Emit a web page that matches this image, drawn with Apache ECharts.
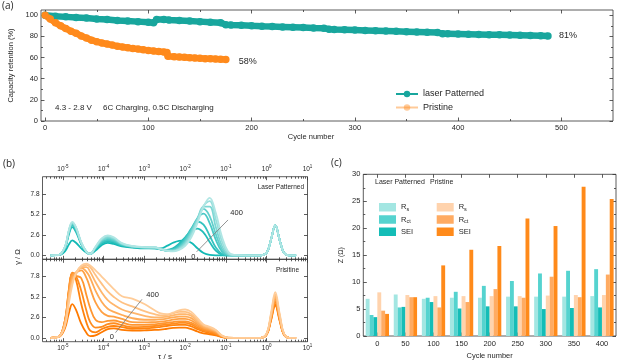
<!DOCTYPE html>
<html>
<head>
<meta charset="utf-8">
<script src="https://cdn.jsdelivr.net/npm/echarts@6/dist/echarts.min.js"></script>
<style>
  html, body { margin: 0; padding: 0; background: #fff; }
  #chart { width: 620px; height: 362px; }
</style>
</head>
<body>
<div id="chart"></div>
<script>
// (a) capacity retention
const cycleLaser = [0,10,20,30,40,50,60,70,80,90,100,105,108,115,120,130,140,150,160,170,175,180,190,200,210,220,230,240,250,260,270,275,280,290,300,310,320,330,340,350,360,370,380,385,390,400,410,420,430,440,450,460,470,480,487];
const capLaser = [100,99,98.5,98,97.5,96.5,96,95,94.5,94,93.5,93,96,96,95.5,95,94.5,94,93.5,93,91,90.8,90.5,90,89.6,89.3,89,88.7,88.4,88,87.8,86.8,86.6,86.3,86,85.7,85.4,85.1,84.8,84.5,84.2,83.9,83.6,82.6,82.5,82.3,82.1,81.9,81.7,81.5,81.3,81.1,80.9,80.7,80.5];
const cyclePristine = [0,5,10,15,20,25,30,35,40,45,50,55,60,65,70,75,80,85,90,95,100,105,110,115,118,119,125,130,135,140,145,150,155,160,165,170,175];
const capPristine = [100,96.5,93,90,87.5,85,83,80.5,78.5,76.5,75,73.8,72.8,71.8,70.8,70,69.3,68.6,68,67.4,66.8,66.3,65.8,65.3,64.8,61.2,60.8,60.5,60.2,59.9,59.6,59.3,59.0,58.8,58.6,58.4,58.2];

// (b) DRT, x = log10(tau / s)
const logTau = [-5.3,-5.1,-4.95,-4.85,-4.77,-4.68,-4.55,-4.42,-4.33,-4.2,-4.05,-3.9,-3.75,-3.55,-3.3,-3.0,-2.75,-2.6,-2.45,-2.3,-2.15,-2.0,-1.85,-1.7,-1.55,-1.4,-1.25,-1.1,-0.95,-0.8,-0.5,-0.15,0.0,0.1,0.21,0.32,0.42,0.55,0.72];
const gammaLaser = [
  [0,0.02,0.5,1.4,1.9,1.6,0.9,0.35,0.2,0.6,1.3,1.6,1.45,1.15,1.0,0.9,0.9,0.9,1.2,1.6,1.85,1.9,1.6,0.9,0.3,0.05,0,0,0,0,0,0,0.35,1.9,3.8,1.9,0.35,0,0],
  [0,0.05,0.9,2.7,3.6,3.0,1.4,0.4,0.2,0.8,1.5,1.75,1.6,1.25,1.05,0.95,0.9,0.75,0.7,0.9,1.5,2.3,3.1,3.4,2.9,1.7,0.6,0.1,0,0,0,0,0.35,1.9,3.8,1.9,0.35,0,0],
  [0,0.05,1.0,2.9,3.8,3.2,1.5,0.4,0.2,0.85,1.6,1.9,1.75,1.3,1.05,0.95,0.95,0.75,0.65,0.8,1.3,2.2,3.4,4.3,3.9,2.5,1.0,0.2,0,0,0,0,0.35,1.9,3.8,1.9,0.35,0,0],
  [0,0.05,1.0,3.0,3.9,3.3,1.5,0.4,0.2,0.9,1.7,2.0,1.85,1.35,1.1,1.0,0.95,0.75,0.6,0.7,1.1,2.0,3.3,4.7,5.3,4.1,2.0,0.5,0.05,0,0,0,0.35,1.9,3.8,1.9,0.35,0,0],
  [0,0.05,1.0,3.1,4.0,3.4,1.6,0.4,0.2,0.95,1.85,2.15,1.95,1.4,1.1,1.0,1.0,0.75,0.6,0.65,1.0,1.8,3.1,4.7,5.9,5.0,2.7,0.8,0.1,0,0,0,0.35,1.9,3.8,1.9,0.35,0,0],
  [0,0.05,1.05,3.2,4.1,3.5,1.6,0.45,0.2,1.0,1.95,2.3,2.1,1.45,1.15,1.0,1.0,0.8,0.6,0.6,0.9,1.6,2.9,4.6,6.2,6.2,3.6,1.2,0.15,0,0,0,0.35,1.9,3.8,1.9,0.35,0,0],
  [0,0.05,1.05,3.2,4.15,3.55,1.65,0.45,0.2,1.05,2.05,2.45,2.2,1.5,1.15,1.05,1.0,0.8,0.6,0.55,0.8,1.4,2.6,4.4,6.3,6.9,4.6,1.8,0.3,0,0,0,0.35,1.9,3.8,1.9,0.35,0,0],
  [0,0.05,1.1,3.3,4.25,3.6,1.65,0.45,0.2,1.1,2.15,2.55,2.3,1.55,1.2,1.05,1.05,0.8,0.6,0.5,0.7,1.2,2.3,4.1,6.2,7.3,5.4,2.4,0.5,0.05,0,0,0.35,1.9,3.8,1.9,0.35,0,0]
];
const gammaPristine = [
  [0,0.1,1.2,3.2,4.3,3.6,1.8,0.6,0.2,0.3,0.7,1.1,1.2,1.0,0.9,0.95,1.0,1.05,1.15,1.25,1.3,1.3,1.1,0.8,0.55,0.45,0.3,0.08,0,0,0,0,0.4,2.1,4.1,2.1,0.4,0,0],
  [0,0.15,2.2,6.2,8.2,7.4,4.3,1.9,0.9,0.7,1.1,1.4,1.5,1.35,1.15,1.2,1.3,1.4,1.5,1.6,1.65,1.65,1.45,1.1,0.8,0.6,0.4,0.12,0,0,0,0,0.42,2.2,4.3,2.2,0.42,0,0],
  [0,0.15,2.2,6.3,8.3,7.9,6.0,3.4,2.0,1.3,1.4,1.75,1.85,1.6,1.35,1.4,1.5,1.6,1.7,1.8,1.9,1.9,1.7,1.3,0.95,0.75,0.5,0.15,0,0,0,0,0.44,2.3,4.5,2.3,0.44,0,0],
  [0,0.15,2.1,6.0,8.2,7.9,7.6,5.4,3.8,2.3,2.0,2.15,2.2,1.95,1.65,1.65,1.7,1.8,1.9,2.0,2.1,2.1,1.9,1.5,1.1,0.9,0.6,0.18,0,0,0,0,0.46,2.4,4.7,2.4,0.46,0,0],
  [0,0.15,2.0,5.8,7.9,8.3,8.6,7.6,6.3,4.5,3.3,2.8,2.7,2.4,2.0,1.95,2.0,2.05,2.15,2.3,2.4,2.4,2.2,1.7,1.25,1.0,0.7,0.2,0,0,0,0,0.48,2.5,4.9,2.5,0.48,0,0],
  [0,0.15,1.9,5.6,7.6,8.3,8.9,8.4,7.6,6.0,4.6,3.7,3.3,2.9,2.5,2.3,2.3,2.35,2.45,2.6,2.7,2.7,2.5,1.9,1.35,1.1,0.8,0.22,0,0,0,0,0.5,2.6,5.1,2.6,0.5,0,0],
  [0,0.15,1.8,5.3,7.3,8.2,9.0,9.0,8.4,7.1,5.8,4.8,4.2,3.6,3.2,2.8,2.6,2.6,2.7,2.85,3.0,3.0,2.8,2.1,1.5,1.2,0.85,0.25,0.02,0,0,0,0.52,2.7,5.3,2.7,0.52,0,0],
  [0,0.15,1.7,5.0,7.0,8.1,9.0,9.3,9.0,8.0,6.9,5.9,5.2,4.5,4.0,3.4,3.0,2.85,2.9,3.1,3.3,3.3,3.0,2.3,1.6,1.3,0.95,0.28,0.02,0,0,0,0.55,2.8,5.5,2.8,0.55,0,0],
  [0,0.15,1.5,4.5,6.7,8.2,9.2,9.45,9.2,8.6,7.8,7.0,6.2,5.3,5.0,4.3,3.5,3.1,3.0,3.2,3.5,3.6,3.3,2.5,1.7,1.4,1.0,0.3,0.02,0,0,0,0.58,3.0,5.8,3.0,0.58,0,0]
];
const gammaTicks = [0, 2.6, 5.2, 7.8];

// (c) fitted resistances
const cycleLabels = ['0','50','100','150','200','250','300','350','400'];
const laserRs  = [6.9,7.7,6.9,7.1,7.1,7.3,7.3,7.3,7.4];
const laserRct = [3.9,5.3,7.1,8.2,9.3,10.2,11.6,12.1,12.4];
const laserSEI = [3.5,5.4,6.3,5.1,5.5,5.5,5.0,5.2,5.3];
const pristRs  = [8.1,7.6,7.4,7.4,7.4,7.4,7.5,7.6,7.6];
const pristRct = [4.7,7.2,5.3,6.3,8.7,7.1,11.0,7.2,11.4];
const pristSEI = [4.1,7.2,13.1,16.0,16.7,21.8,20.4,27.7,25.4];

const FONT = 'Liberation Sans';
const INK = '#262626';
const TEAL = '#18a69d';
const ORANGE = '#ff8a1c';
const tealShades = ['#12b9b5','#22bdb9','#34c3bf','#4ac9c6','#62cfcc','#7cd7d4','#97dedc','#b0e6e4'];
const orangeShades = ['#ff7a00','#ff830e','#ff8c1e','#ff9630','#ffa043','#ffab57','#ffb66c','#ffc182','#ffcc98'];

const logMajor = [-5,-4,-3,-2,-1,0,1];
const logMinor = [];
for (let n = -6; n <= 0; n++) {
  for (let k = 2; k <= 9; k++) {
    const v = n + Math.log10(k);
    if (v > -5.5 && v < 1) logMinor.push(v);
  }
}

function ticks(vals, len) {
  return { show: true, inside: true, length: len, customValues: vals, lineStyle: { color: '#333', width: 0.8 } };
}
function axis(grid, pos, min, max, extra) {
  return Object.assign({
    type: 'value', gridIndex: grid, position: pos, min: min, max: max,
    axisLine: { show: false, onZero: false },
    splitLine: { show: false },
    axisLabel: { show: false },
    axisTick: { show: false }
  }, extra);
}
function label(vals, size, extra) {
  return Object.assign({ show: true, customValues: vals, fontSize: size, color: INK, fontFamily: FONT }, extra);
}

const xAxes = [];
const yAxes = [];

// grid 0 : (a)
const aMajX = [0,100,200,300,400,500], aMinX = [50,150,250,350,450];
const aMajY = [0,20,40,60,80,100], aMinY = [10,30,50,70,90];
xAxes.push(axis(0, 'bottom', -4, 550, {
  axisTick: ticks(aMajX, 3.5), axisLabel: label(aMajX, 7.5, { margin: 3 }),
  name: 'Cycle number', nameLocation: 'middle', nameGap: 11,
  nameTextStyle: { fontSize: 7.5, color: INK, fontFamily: FONT, padding: [0, 32, 0, 0] }
}));
const ax0 = 0;
xAxes.push(axis(0, 'bottom', -4, 550, { axisTick: ticks(aMinX, 2) }));
xAxes.push(axis(0, 'top', -4, 550, { axisTick: ticks(aMajX, 3.5) }));
xAxes.push(axis(0, 'top', -4, 550, { axisTick: ticks(aMinX, 2) }));
yAxes.push(axis(0, 'left', 0, 105, {
  axisTick: ticks(aMajY, 3.5), axisLabel: label(aMajY, 7.5, { margin: 3 }),
  name: 'Capacity retention (%)', nameLocation: 'middle', nameGap: 26,
  nameTextStyle: { fontSize: 7.5, color: INK, fontFamily: FONT }
}));
const ay0 = 0;
yAxes.push(axis(0, 'left', 0, 105, { axisTick: ticks(aMinY, 2) }));
yAxes.push(axis(0, 'right', 0, 105, { axisTick: ticks(aMajY, 3.5) }));
yAxes.push(axis(0, 'right', 0, 105, { axisTick: ticks(aMinY, 2) }));

// log labels with superscript
const powLabel = {
  formatter: v => '{b|10}{e|' + Math.round(v) + '}',
  rich: {
    b: { fontSize: 6.5, color: INK, fontFamily: FONT },
    e: { fontSize: 4.5, color: INK, fontFamily: FONT, padding: [0, 0, 5, 0] }
  }
};

// grid 1 : (b) top
const bx1 = xAxes.length;
xAxes.push(axis(1, 'top', -5.5, 1, { axisTick: ticks(logMajor, 3.5), axisLabel: label(logMajor, 6.5, Object.assign({ margin: 2 }, powLabel)) }));
xAxes.push(axis(1, 'top', -5.5, 1, { axisTick: ticks(logMinor, 2) }));
xAxes.push(axis(1, 'bottom', -5.5, 1, { axisTick: ticks(logMajor, 3.5) }));
xAxes.push(axis(1, 'bottom', -5.5, 1, { axisTick: ticks(logMinor, 2) }));
const by1 = yAxes.length;
yAxes.push(axis(1, 'left', -0.5, 10, {
  axisTick: ticks(gammaTicks, 3.5),
  axisLabel: label(gammaTicks, 6.5, { margin: 3, formatter: v => v.toFixed(1) })
}));
yAxes.push(axis(1, 'right', -0.5, 10, { axisTick: ticks(gammaTicks, 3.5) }));

// grid 2 : (b) bottom
const bx2 = xAxes.length;
xAxes.push(axis(2, 'bottom', -5.5, 1, {
  axisTick: ticks(logMajor, 3.5), axisLabel: label(logMajor, 6.5, Object.assign({ margin: 2 }, powLabel)),
  name: 'τ / s', nameLocation: 'middle', nameGap: 11,
  nameTextStyle: { fontSize: 8, color: INK, fontFamily: FONT, padding: [0, 20, 0, 0] }
}));
xAxes.push(axis(2, 'bottom', -5.5, 1, { axisTick: ticks(logMinor, 2) }));
xAxes.push(axis(2, 'top', -5.5, 1, { axisTick: ticks(logMajor, 3.5) }));
xAxes.push(axis(2, 'top', -5.5, 1, { axisTick: ticks(logMinor, 2) }));
const by2 = yAxes.length;
yAxes.push(axis(2, 'left', -0.5, 10, {
  axisTick: ticks(gammaTicks, 3.5),
  axisLabel: label(gammaTicks, 6.5, { margin: 3, formatter: v => v.toFixed(1) })
}));
yAxes.push(axis(2, 'right', -0.5, 10, { axisTick: ticks(gammaTicks, 3.5) }));

// grid 3 : (c)
const cx = xAxes.length;
xAxes.push({
  type: 'category', gridIndex: 3, position: 'bottom', data: cycleLabels,
  axisLine: { show: false, onZero: false },
  axisTick: { show: true, inside: true, alignWithLabel: true, length: 3.5, lineStyle: { color: '#333', width: 0.8 } },
  axisLabel: { fontSize: 7.5, color: INK, fontFamily: FONT, margin: 4 },
  name: 'Cycle number', nameLocation: 'middle', nameGap: 16,
  nameTextStyle: { fontSize: 7.5, color: INK, fontFamily: FONT }
});
xAxes.push({
  type: 'category', gridIndex: 3, position: 'top', data: cycleLabels,
  axisLine: { show: false, onZero: false }, axisLabel: { show: false },
  axisTick: { show: true, inside: true, alignWithLabel: true, length: 3.5, lineStyle: { color: '#333', width: 0.8 } }
});
const cy = yAxes.length;
const cTickStyle = { show: true, inside: true, length: 3.5, lineStyle: { color: '#333', width: 0.8 } };
const cMinor = { show: true, splitNumber: 2, length: 2, lineStyle: { color: '#333', width: 0.8 } };
yAxes.push({
  type: 'value', gridIndex: 3, position: 'left', min: 0, max: 30, interval: 5,
  axisLine: { show: false, onZero: false }, splitLine: { show: false },
  axisTick: cTickStyle, minorTick: cMinor,
  axisLabel: { fontSize: 7.5, color: INK, fontFamily: FONT, margin: 3 },
  name: 'Z (Ω)', nameLocation: 'middle', nameGap: 19,
  nameTextStyle: { fontSize: 7, color: INK, fontFamily: FONT }
});
yAxes.push({
  type: 'value', gridIndex: 3, position: 'right', min: 0, max: 30, interval: 5,
  axisLine: { show: false, onZero: false }, splitLine: { show: false },
  axisTick: cTickStyle, minorTick: cMinor, axisLabel: { show: false }
});

const gridStyle = { show: true, borderColor: '#333', borderWidth: 0.8, backgroundColor: 'transparent', containLabel: false, outerBoundsMode: 'none' };
const grids = [
  Object.assign({ left: 41, top: 10, width: 572, height: 111 }, gridStyle),
  Object.assign({ left: 42.5, top: 176.7, width: 265, height: 82.6 }, gridStyle),
  Object.assign({ left: 42.5, top: 259.3, width: 265, height: 82.4 }, gridStyle),
  Object.assign({ left: 363.3, top: 174.3, width: 252.7, height: 161.7 }, gridStyle)
];

const series = [];
// (a)
series.push({
  name: 'laser Patterned', type: 'line', xAxisIndex: ax0, yAxisIndex: ay0,
  data: cycleLaser.map((c, i) => [c, capLaser[i]]),
  symbol: 'circle', symbolSize: 7.5, lineStyle: { width: 6.5, color: TEAL }, itemStyle: { color: TEAL },
  endLabel: { show: true, formatter: '81%', fontSize: 9, color: INK, fontFamily: FONT, distance: 11 }
});
series.push({
  name: 'Pristine', type: 'line', xAxisIndex: ax0, yAxisIndex: ay0,
  data: cyclePristine.map((c, i) => [c, capPristine[i]]),
  symbol: 'circle', symbolSize: 7.5, lineStyle: { width: 6.5, color: ORANGE }, itemStyle: { color: ORANGE },
  endLabel: { show: true, formatter: '58%', fontSize: 9, color: INK, fontFamily: FONT, distance: 13, offset: [0, 2] }
});

// (b)
const arrowStyle = { color: '#777', width: 0.8, type: 'solid' };
const noteLabel = { show: true, position: 'inside', fontSize: 7.5, color: INK, fontFamily: FONT };
gammaLaser.forEach((g, k) => {
  const s = {
    type: 'line', xAxisIndex: bx1, yAxisIndex: by1, smooth: 0.4, symbol: 'none',
    lineStyle: { width: 1.8, color: tealShades[k] },
    data: logTau.map((t, i) => [t, g[i]])
  };
  if (k === gammaLaser.length - 1) {
    s.markLine = {
      silent: true, symbol: ['none', 'arrow'], symbolSize: [0, 5], lineStyle: arrowStyle, label: { show: false },
      data: [[{ coord: [-1.72, 0.45] }, { coord: [-0.95, 4.5] }]]
    };
    s.markPoint = {
      silent: true, symbol: 'circle', symbolSize: 0,
      data: [
        { coord: [-1.8, -0.15], label: Object.assign({ formatter: '0' }, noteLabel) },
        { coord: [-0.74, 5.4], label: Object.assign({ formatter: '400' }, noteLabel) }
      ]
    };
  }
  series.push(s);
});
gammaPristine.forEach((g, k) => {
  const s = {
    type: 'line', xAxisIndex: bx2, yAxisIndex: by2, smooth: 0.4, symbol: 'none',
    lineStyle: { width: 1.8, color: orangeShades[k] },
    data: logTau.map((t, i) => [t, g[i]])
  };
  if (k === gammaPristine.length - 1) {
    s.markLine = {
      silent: true, symbol: ['none', 'arrow'], symbolSize: [0, 5], lineStyle: arrowStyle, label: { show: false },
      data: [[{ coord: [-3.71, 0.65] }, { coord: [-3.06, 4.9] }]]
    };
    s.markPoint = {
      silent: true, symbol: 'circle', symbolSize: 0,
      data: [
        { coord: [-3.8, 0.15], label: Object.assign({ formatter: '0' }, noteLabel) },
        { coord: [-2.8, 5.5], label: Object.assign({ formatter: '400' }, noteLabel) }
      ]
    };
  }
  series.push(s);
});

// (c)
const barSets = [
  ['Laser Rs', laserRs, '#a3e6e2'],
  ['Laser Rct', laserRct, '#55d3cf'],
  ['Laser SEI', laserSEI, '#14bdb7'],
  ['Pristine Rs', pristRs, '#ffd3ad'],
  ['Pristine Rct', pristRct, '#ffab62'],
  ['Pristine SEI', pristSEI, '#ff8a1a']
];
barSets.forEach(([name, vals, color]) => {
  series.push({
    name: name, type: 'bar', xAxisIndex: cx, yAxisIndex: cy, data: vals,
    barGap: '0%', barCategoryGap: '17%', itemStyle: { color: color }
  });
});

const legendNames = {
  'Laser Rs': 'R{s|s}', 'Laser Rct': 'R{s|ct}', 'Laser SEI': 'SEI',
  'Pristine Rs': 'R{s|s}', 'Pristine Rct': 'R{s|ct}', 'Pristine SEI': 'SEI'
};
const barLegendText = {
  fontSize: 7.5, color: INK, fontFamily: FONT,
  rich: { s: { fontSize: 5.5, color: INK, fontFamily: FONT, padding: [4, 0, 0, 0] } }
};

const option = {
  animation: false,
  backgroundColor: '#fff',
  textStyle: { fontFamily: FONT },
  grid: grids,
  xAxis: xAxes,
  yAxis: yAxes,
  legend: [
    {
      orient: 'vertical', left: 390, top: 84.5, itemWidth: 22, itemHeight: 8, itemGap: 4.5, selectedMode: false,
      textStyle: { fontSize: 9, color: INK, fontFamily: FONT },
      data: ['laser Patterned', { name: 'Pristine', itemStyle: { opacity: 0.45 }, lineStyle: { opacity: 0.45 } }]
    },
    {
      orient: 'vertical', left: 374, top: 198, itemWidth: 17, itemHeight: 8.5, itemGap: 3, selectedMode: false, icon: 'rect',
      textStyle: barLegendText, formatter: n => legendNames[n],
      data: ['Laser Rs', 'Laser Rct', 'Laser SEI']
    },
    {
      orient: 'vertical', left: 431.7, top: 198, itemWidth: 17, itemHeight: 8.5, itemGap: 3, selectedMode: false, icon: 'rect',
      textStyle: barLegendText, formatter: n => legendNames[n],
      data: ['Pristine Rs', 'Pristine Rct', 'Pristine SEI']
    }
  ],
  graphic: [
    { type: 'text', left: 2, top: 1, style: { text: '(a)', font: '10px "Open Sans"', fill: INK } },
    { type: 'text', left: 3, top: 159, style: { text: '(b)', font: '10px "Open Sans"', fill: INK } },
    { type: 'text', left: 331, top: 158, style: { text: '(c)', font: '10px "Open Sans"', fill: INK } },
    { type: 'text', left: 55, top: 104, style: { text: '4.3 - 2.8 V     6C Charging, 0.5C Discharging', font: '8px "Liberation Sans"', fill: INK } },
    { type: 'text', x: 18, y: 257, rotation: Math.PI / 2, style: { text: 'γ / Ω', font: '7.5px "Liberation Sans"', fill: INK, align: 'center', verticalAlign: 'middle' } },
    { type: 'text', x: 304, y: 187.7, style: { text: 'Laser Patterned', font: '6.5px "Liberation Sans"', fill: INK, align: 'right', verticalAlign: 'middle' } },
    { type: 'text', x: 299, y: 270, style: { text: 'Prisitine', font: '6.5px "Liberation Sans"', fill: INK, align: 'right', verticalAlign: 'middle' } },
    { type: 'text', left: 375, top: 179, style: { text: 'Laser Patterned', font: '7px "Liberation Sans"', fill: INK } },
    { type: 'text', left: 430, top: 179, style: { text: 'Pristine', font: '7px "Liberation Sans"', fill: INK } }
  ],
  series: series
};

const chart = echarts.init(document.getElementById('chart'));
chart.setOption(option);
</script>
</body>
</html>
